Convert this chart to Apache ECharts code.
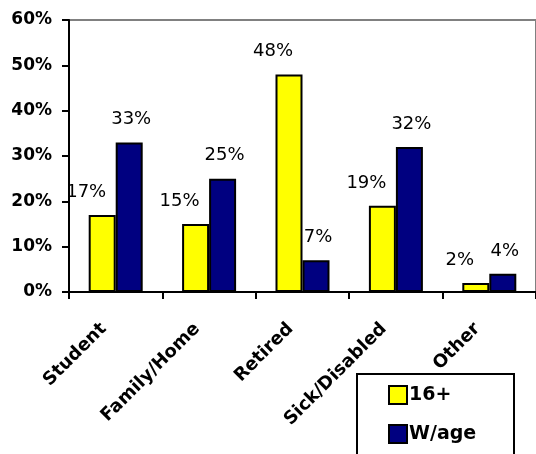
<!DOCTYPE html>
<html><head><meta charset="utf-8">
<script src="https://cdn.jsdelivr.net/npm/echarts@6/dist/echarts.min.js"></script>
<style>html,body{margin:0;padding:0;background:#fff}#c{width:536px;height:454px}</style>
</head><body><div id="c"></div>
<script>
const categories = ['Student', 'Family/Home', 'Retired', 'Sick/Disabled', 'Other'];
const series16 = [17, 15, 48, 19, 2];
const seriesWage = [33, 25, 7, 32, 4];
const seriesNames = ['16+', 'W/age'];
const yTicks = [0, 10, 20, 30, 40, 50, 60];

const chart = echarts.init(document.getElementById('c'));
const FONT = 'DejaVu Sans';
const labelCommon = {
  show: true, position: 'top', distance: 14,
  fontFamily: FONT, fontSize: 18, color: '#000',
  formatter: p => p.value + '%'
};
chart.setOption({
  animation: false,
  backgroundColor: '#fff',
  grid: { left: 69, top: 20, right: 0, bottom: 162, show: true, borderColor: '#808080', borderWidth: 2, backgroundColor: 'transparent' },
  graphic: [{
    type: 'rect', z: 0, zlevel: 0,
    shape: { x: 357, y: 374, width: 157, height: 100 },
    style: { fill: '#fff', stroke: '#000', lineWidth: 2 }
  }],
  legend: {
    orient: 'vertical', left: 388, top: 385, z: 10,
    padding: 0, icon: 'rect',
    itemWidth: 18, itemHeight: 18, itemGap: 19,
    itemStyle: { borderColor: '#000', borderWidth: 2 },
    textStyle: { fontFamily: FONT, fontWeight: 'bold', fontSize: 19, color: '#000', padding: [0, 0, 0, -3] },
    data: seriesNames
  },
  xAxis: {
    type: 'category', data: categories,
    axisLine: { lineStyle: { color: '#000', width: 2 } },
    axisTick: { show: true, length: 7, lineStyle: { color: '#000', width: 2 } },
    axisLabel: { rotate: 45, interval: 0, margin: 22, padding: [0, 17, 0, 0], fontFamily: FONT, fontWeight: 'bold', fontSize: 18, color: '#000' }
  },
  yAxis: {
    type: 'value', min: yTicks[0], max: yTicks[yTicks.length - 1], interval: 10,
    axisLine: { show: true, lineStyle: { color: '#000', width: 2 } },
    axisTick: { show: true, length: 7, lineStyle: { color: '#000', width: 2 } },
    splitLine: { show: false },
    axisLabel: { margin: 17, formatter: '{value}%', fontFamily: FONT, fontWeight: 'bold', fontSize: 17, color: '#000' }
  },
  series: [
    {
      name: seriesNames[0], type: 'bar', data: series16, barWidth: 27, barGap: '0%',
      itemStyle: { color: '#FFFF00', borderColor: '#000', borderWidth: 2 },
      label: Object.assign({}, labelCommon, { offset: [-16, 0] })
    },
    {
      name: seriesNames[1], type: 'bar', data: seriesWage, barWidth: 27, barGap: '0%',
      itemStyle: { color: '#000080', borderColor: '#000', borderWidth: 2 },
      label: Object.assign({}, labelCommon, { offset: [2, 0] })
    }
  ]
});
</script></body></html>
